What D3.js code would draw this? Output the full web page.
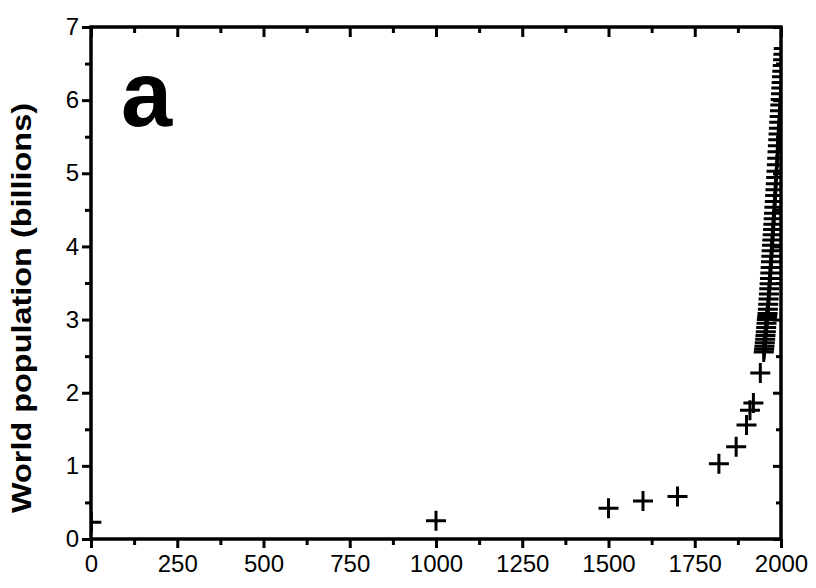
<!DOCTYPE html>
<html>
<head>
<meta charset="utf-8">
<script src="https://cdn.jsdelivr.net/npm/d3@7"></script>
<style>
  html, body { margin: 0; padding: 0; background: #fff; }
  svg { display: block; }
  text { font-family: "Liberation Sans", Arial, sans-serif; fill: #000; }
</style>
</head>
<body>
<svg id="chart" width="816" height="588"></svg>
<script>
// ---- data ----
const years = [1, 1000, 1500, 1600, 1700, 1820, 1870, 1900, 1910, 1920, 1940,
  1950, 1951, 1952, 1953, 1954, 1955, 1956, 1957, 1958, 1959,
  1960, 1961, 1962, 1963, 1964, 1965, 1966, 1967, 1968, 1969,
  1970, 1971, 1972, 1973, 1974, 1975, 1976, 1977, 1978, 1979,
  1980, 1981, 1982, 1983, 1984, 1985, 1986, 1987, 1988, 1989,
  1990, 1991, 1992, 1993, 1994, 1995, 1996, 1997, 1998, 1999,
  2000, 2001, 2002, 2003, 2004, 2005, 2006, 2007, 2008];
const population = [0.23, 0.25, 0.42, 0.52, 0.58, 1.03, 1.26, 1.56, 1.76, 1.86, 2.27,
  2.557, 2.594, 2.636, 2.682, 2.730, 2.782, 2.835, 2.891, 2.948, 3.001,
  3.043, 3.084, 3.140, 3.210, 3.281, 3.350, 3.421, 3.490, 3.562, 3.637,
  3.713, 3.790, 3.867, 3.942, 4.016, 4.088, 4.159, 4.231, 4.303, 4.378,
  4.455, 4.534, 4.614, 4.695, 4.775, 4.856, 4.941, 5.029, 5.117, 5.205,
  5.293, 5.376, 5.458, 5.538, 5.617, 5.697, 5.776, 5.855, 5.933, 6.010,
  6.088, 6.165, 6.242, 6.319, 6.396, 6.473, 6.551, 6.629, 6.707];
const xTickValues = [0, 250, 500, 750, 1000, 1250, 1500, 1750, 2000];
const yTickValues = [0, 1, 2, 3, 4, 5, 6, 7];
const yLabel = "World population (billions)";
const panelLabel = "a";

// ---- layout ----
const L = 91, R = 781, T = 27, B = 539;
const svg = d3.select("#chart");
const x = d3.scaleLinear().domain([0, 2000]).range([L, R]);
const y = d3.scaleLinear().domain([0, 7]).range([B, T]);

const xMinor = d3.range(0, 2001, 125).filter(v => v % 250 !== 0);
const yMinor = d3.range(0, 7.01, 0.5).filter(v => v % 1 !== 0);

svg.append("defs").append("clipPath").attr("id", "plotclip")
  .append("rect").attr("x", L).attr("y", T).attr("width", R - L).attr("height", B - T);

// ---- data markers (plus signs) ----
const pts = years.map((yr, i) => ({ yr, v: population[i] }));
const hs = 10;
const mk = svg.append("g").attr("clip-path", "url(#plotclip)");
mk.selectAll("path.pt").data(pts).enter().append("path")
  .attr("class", "pt")
  .attr("d", d => {
    const cx = x(d.yr), cy = y(d.v);
    return `M${cx - hs},${cy}H${cx + hs}M${cx},${cy - hs}V${cy + hs}`;
  })
  .attr("stroke", "#000").attr("stroke-width", 3).attr("fill", "none");

// ---- axes ----
const sw = 3.5;
function styleAxis(g) {
  g.select(".domain").remove();
  g.selectAll(".tick line").attr("stroke", "#000").attr("stroke-width", 3);
}
// bottom
const gB = svg.append("g").attr("transform", `translate(0,${B})`)
  .call(d3.axisBottom(x).tickValues(xTickValues).tickSize(9).tickPadding(6).tickFormat(d3.format("d")));
styleAxis(gB);
gB.selectAll("text").attr("font-size", 24).attr("dy", "0.75em");
svg.append("g").attr("transform", `translate(0,${B})`)
  .call(d3.axisBottom(x).tickValues(xMinor).tickSize(6).tickFormat(""))
  .call(styleAxis);
// top (inward)
svg.append("g").attr("transform", `translate(0,${T})`)
  .call(d3.axisBottom(x).tickValues(xTickValues).tickSize(10).tickFormat(""))
  .call(styleAxis);
svg.append("g").attr("transform", `translate(0,${T})`)
  .call(d3.axisBottom(x).tickValues(xMinor).tickSize(6).tickFormat(""))
  .call(styleAxis);
// left
const gL = svg.append("g").attr("transform", `translate(${L},0)`)
  .call(d3.axisLeft(y).tickValues(yTickValues).tickSize(9).tickPadding(3).tickFormat(d3.format("d")));
styleAxis(gL);
gL.selectAll("text").attr("font-size", 24);
svg.append("g").attr("transform", `translate(${L},0)`)
  .call(d3.axisLeft(y).tickValues(yMinor).tickSize(6).tickFormat(""))
  .call(styleAxis);
// right (inward)
svg.append("g").attr("transform", `translate(${R},0)`)
  .call(d3.axisLeft(y).tickValues(yTickValues).tickSize(8).tickFormat(""))
  .call(styleAxis);
svg.append("g").attr("transform", `translate(${R},0)`)
  .call(d3.axisLeft(y).tickValues(yMinor).tickSize(5).tickFormat(""))
  .call(styleAxis);

// frame
svg.append("rect").attr("x", L).attr("y", T).attr("width", R - L).attr("height", B - T)
  .attr("fill", "none").attr("stroke", "#000").attr("stroke-width", sw);

// ---- labels ----
svg.append("text")
  .attr("transform", `translate(31,308) rotate(-90)`)
  .attr("text-anchor", "middle")
  .attr("font-size", 28).attr("font-weight", "bold")
  .attr("textLength", 410).attr("lengthAdjust", "spacingAndGlyphs")
  .text(yLabel);

svg.append("text")
  .attr("x", 121).attr("y", 126)
  .attr("font-size", 92).attr("font-weight", "bold")
  .text(panelLabel);
</script>
</body>
</html>
